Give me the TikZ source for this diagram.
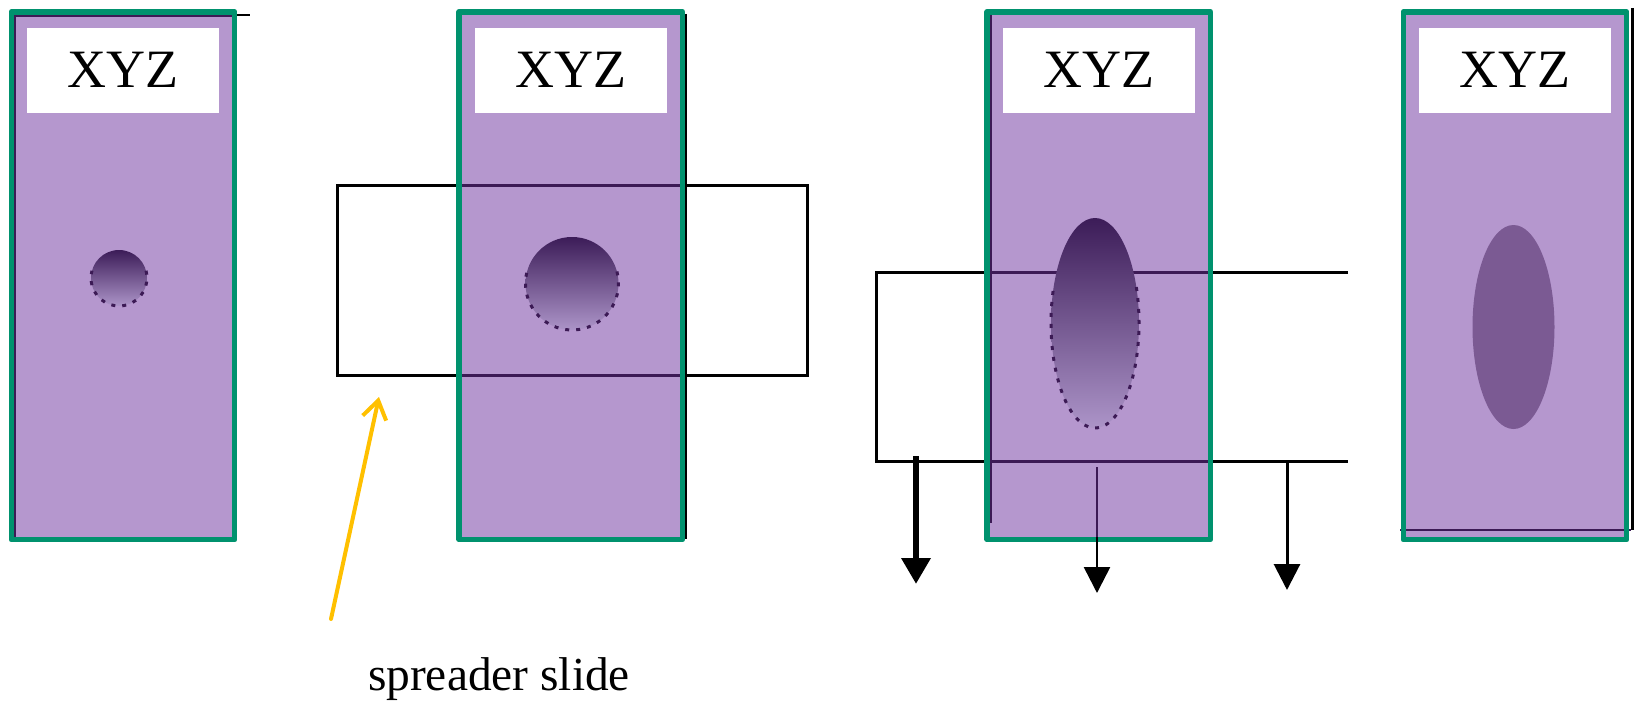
\documentclass[tikz,border=0pt]{standalone}
\usepackage{fontspec}
\setmainfont{Liberation Serif}
\usetikzlibrary{arrows.meta}

\definecolor{slidefill}{RGB}{181,151,206}
\definecolor{slideedge}{RGB}{0,146,110}
\definecolor{inkline}{RGB}{60,26,85}
\definecolor{spotdark}{RGB}{60,28,88}
\definecolor{spotlight}{RGB}{172,148,200}
\definecolor{spotflat}{RGB}{123,90,147}
\definecolor{pointer}{RGB}{255,192,0}

\begin{document}
\begin{tikzpicture}[x=1pt,y=-1pt,
  slide/.style={fill=slidefill, draw=none, minimum width=223pt, minimum height=527.5pt, inner sep=0pt},
  rim/.style={draw=slideedge, line width=5.5pt, line join=round},
  tag/.style={fill=white, minimum width=192pt, minimum height=85pt, inner sep=0pt,
              font=\fontsize{54}{54}\selectfont},
  spreader/.style={draw=black, line width=3pt},
  seen/.style={draw=inkline, line width=3pt},
  spotrim/.style={draw=inkline, line width=3pt, dash pattern=on 4pt off 7pt},
  spotshade/.style={top color=spotdark, bottom color=spotlight, draw=none},
  drop/.style={-{Triangle[length=26pt,width=26pt]}, line width=2.6pt},
  pointerarrow/.style={draw=pointer, line width=4pt, line cap=round,
                       -{Straight Barb[length=18pt,width=24pt,line width=4pt]}},
  caption/.style={font=\fontsize{47.4}{50}\selectfont, inner sep=0pt, anchor=base}
]
\useasboundingbox (0,0) rectangle (1634,701);

% spreader slides (outlines behind the glass slides)
\draw[spreader] (337,185.5) rectangle (807,375.3);
\draw[spreader] (1348,272) -- (876,272) -- (876,461) -- (1348,461);

% glass slides
\node[slide] (p1) at (123,275.75) {};
\node[slide] (p2) at (570.75,275.75) {};
\node[slide] (p3) at (1098.75,275.75) {};
\node[slide] (p4) at (1515,275.75) {};

% outline traces of the slides
\draw[draw=inkline, line width=2.5pt] (232,16) -- (15,16) -- (15,537);
\draw[line width=2.5pt] (237,15) -- (250,15);
\draw[line width=2pt] (686,14) -- (686,539);
\draw[draw=inkline, line width=2.5pt] (991,15) -- (991,523);
\draw[line width=2.5pt] (1632.5,8) -- (1632.5,530);
\draw[draw=inkline, line width=2.5pt] (1400,530) -- (1631,530);

% spreader edges seen through the slides
\draw[seen] (461,185.5) -- (680,185.5);
\draw[seen] (461,375.3) -- (680,375.3);
\draw[seen] (990,272) -- (1208,272);
\draw[seen] (990,461) -- (1208,461);

% sample spots
\shade[spotshade] (119,278) circle (28);
\draw[spotrim] (119,278) ++(-15:28) arc[start angle=-15, end angle=195, radius=28];
\shade[spotshade] (572,283.5) circle (46.5);
\draw[spotrim] (572,283.5) ++(-15:46.5) arc[start angle=-15, end angle=195, radius=46.5];
\shade[spotshade] (1095,323) ellipse [x radius=44, y radius=105];
\draw[spotrim] (1095,323) ++(-20:44 and 105) arc[start angle=-20, end angle=200, x radius=44, y radius=105];
\fill[spotflat] (1513.5,327) ellipse [x radius=41, y radius=102];

% slide borders
\draw[rim] (p1.south west) rectangle (p1.north east);
\draw[rim] (p2.south west) rectangle (p2.north east);
\draw[rim] (p3.south west) rectangle (p3.north east);
\draw[rim] (p4.south west) rectangle (p4.north east);

% labels
\node[tag] (t1) at (123,70.2) {XYZ};
\node[tag] (t2) at (570.75,70.2) {XYZ};
\node[tag] (t3) at (1098.75,70.2) {XYZ};
\node[tag] (t4) at (1515,70.2) {XYZ};

% drain arrows under the spreader
\coordinate (d1s) at (916,456);
\coordinate (d1e) at (916,584);
\coordinate (d2s) at (1097,467);
\coordinate (d2m) at (1097,537);
\coordinate (d2e) at (1097,593);
\coordinate (d3s) at (1287,461);
\coordinate (d3e) at (1287,590);
\draw[drop, line width=6.5pt, -{Triangle[length=26pt,width=28pt]}] (d1s) -- (d1e);
\draw[drop] (d2s) -- (d2e);
\draw[draw=inkline, line width=2.6pt] (d2s) -- (d2m);
\draw[drop, line width=3pt] (d3s) -- (d3e);

% caption with pointer
\node[caption] (cap) at (499,690.7) {spreader slide};
\coordinate (ptail) at (331,619);
\coordinate (ptip) at (379,397);
\draw[pointerarrow] (ptail) -- (ptip);
\end{tikzpicture}
\end{document}
